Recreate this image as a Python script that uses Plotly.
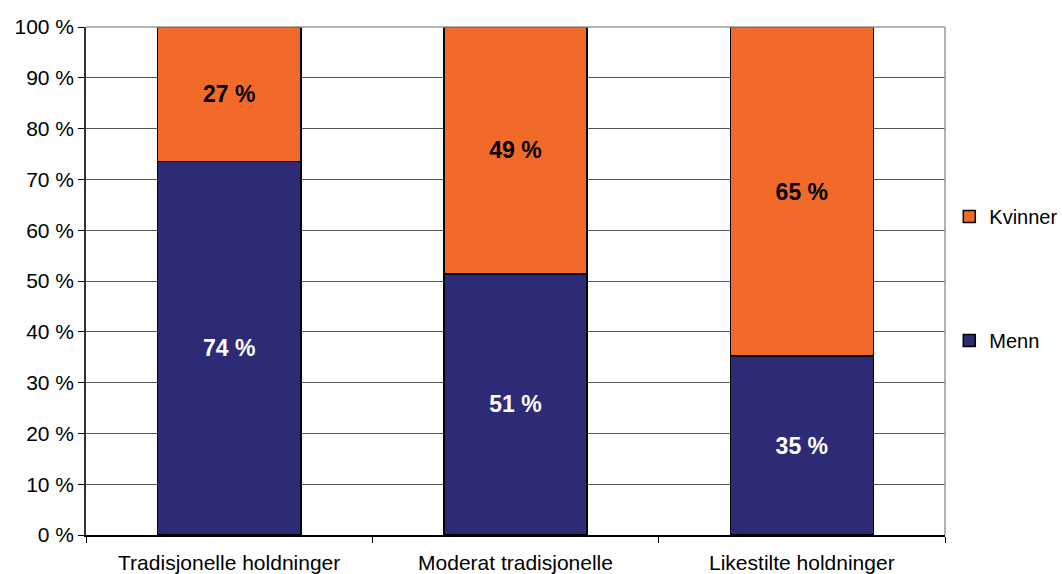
import plotly.graph_objects as go

categories = ["Tradisjonelle holdninger", "Moderat tradisjonelle", "Likestilte holdninger"]
menn = [73.5, 51.4, 35.2]
kvinner = [26.5, 48.6, 64.8]
menn_labels = ["74 %", "51 %", "35 %"]
kvinner_labels = ["27 %", "49 %", "65 %"]
y_ticks = list(range(0, 101, 10))
y_tick_labels = [f"{v} %" for v in y_ticks]

FONT = "Liberation Sans, Arial, sans-serif"

fig = go.Figure()
fig.add_trace(go.Bar(
    x=categories, y=menn, name="Menn", legendgroup="m", legendrank=2,
    marker=dict(color="#2E2B76", line=dict(color="black", width=1.5)),
    text=menn_labels, textposition="inside", insidetextanchor="middle",
    textfont=dict(color="white", size=23, family=FONT, weight="bold"),
    textangle=0,
))
fig.add_trace(go.Bar(
    x=categories, y=kvinner, name="Kvinner", legendgroup="k", legendrank=1,
    marker=dict(color="#F26A2A", line=dict(color="black", width=1.5)),
    text=kvinner_labels, textposition="inside", insidetextanchor="middle",
    textfont=dict(color="black", size=23, family=FONT, weight="bold"),
    textangle=0,
))

fig.update_layout(
    barmode="stack",
    bargap=0.5,
    width=1062, height=574,
    margin=dict(l=86, r=117, t=27, b=39, autoexpand=False),
    paper_bgcolor="white", plot_bgcolor="white",
    font=dict(family=FONT, size=21, color="black"),
    legend=dict(
        x=1.005, xanchor="left", y=0.505, yanchor="middle",
        traceorder="grouped", tracegroupgap=95,
        font=dict(size=20, family=FONT), bgcolor="rgba(0,0,0,0)",
        itemwidth=30,
    ),
    xaxis=dict(
        type="category", tickson="boundaries", ticks="outside", ticklen=6,
        tickcolor="black", showline=True, linecolor="black", linewidth=1.5,
        showgrid=False, tickfont=dict(size=21), fixedrange=True,
        ticklabelstandoff=8,
    ),
    yaxis=dict(
        range=[0, 100], tickvals=y_ticks, ticktext=y_tick_labels,
        ticks="outside", ticklen=6, tickcolor="black",
        showline=True, linecolor="#333333", linewidth=1.5,
        showgrid=True, gridcolor="#555555", gridwidth=1,
        tickfont=dict(size=21), zeroline=False, fixedrange=True,
    ),
    showlegend=True,
)
fig.add_shape(type="line", xref="paper", yref="paper", x0=1, x1=1, y0=0, y1=1,
              line=dict(color="#999999", width=1.5))
fig.add_shape(type="line", xref="paper", yref="paper", x0=0, x1=1, y0=1, y1=1,
              line=dict(color="#999999", width=1.5))

fig.write_html("out.html", config={"displayModeBar": False},
               post_script="document.body.style.margin='0';")
